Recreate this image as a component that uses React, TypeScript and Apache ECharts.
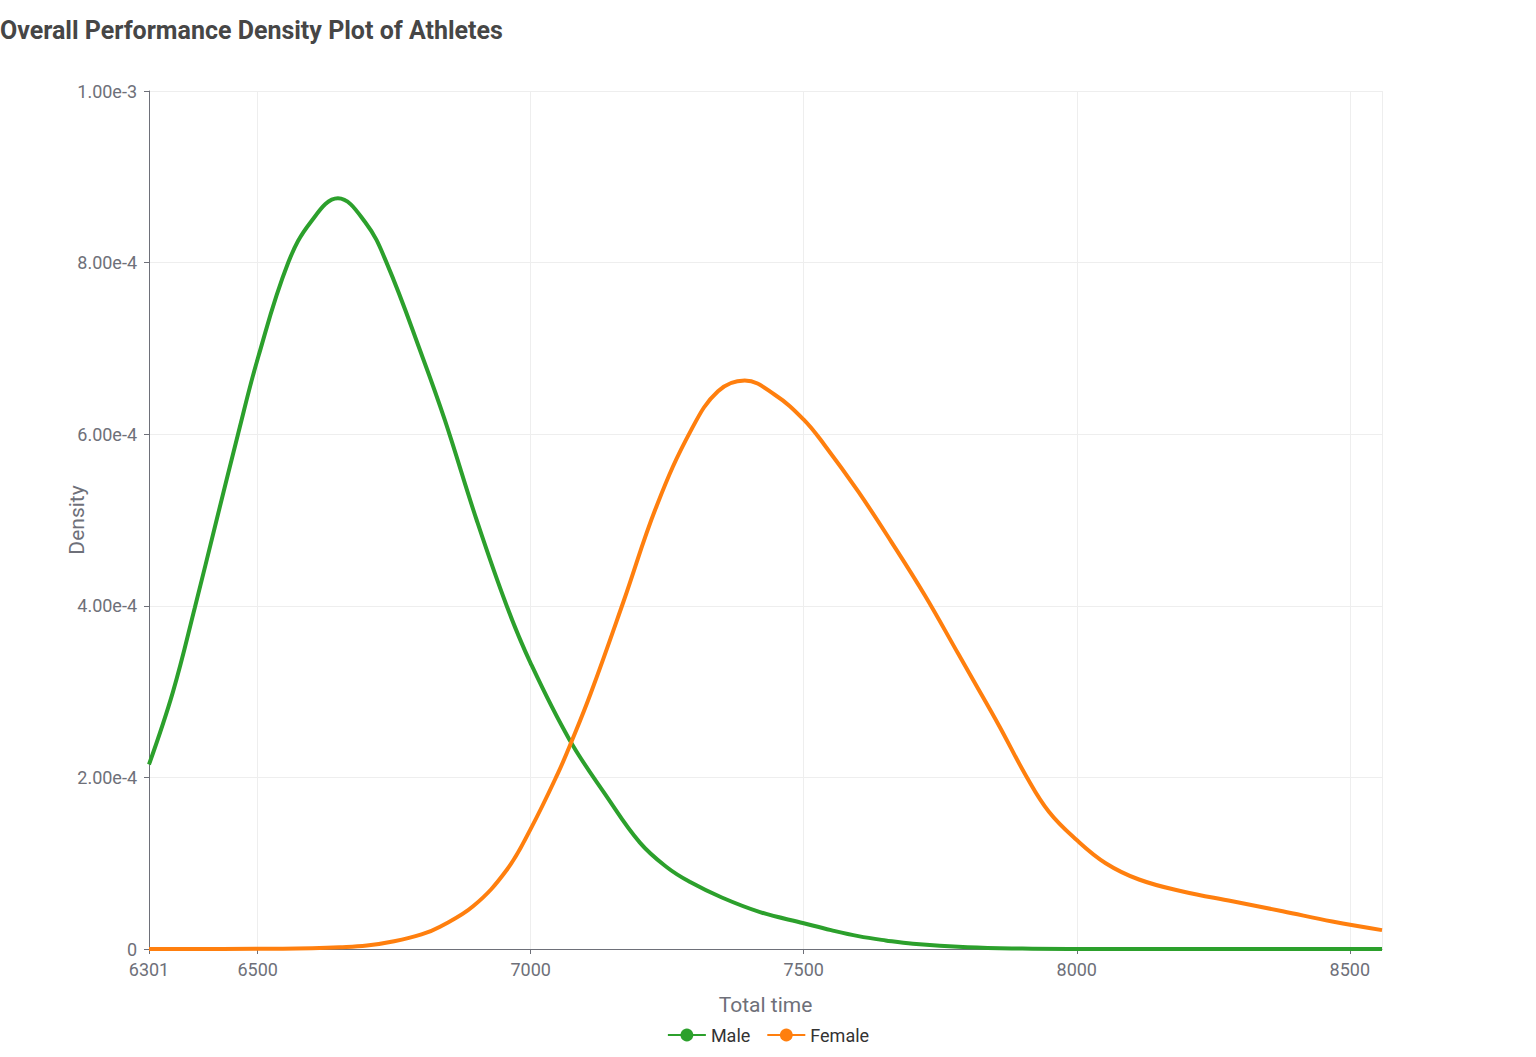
import React, { useEffect, useRef } from "react";
import * as echarts from "echarts";

const TITLE = "Overall Performance Density Plot of Athletes";
const SERIES_NAMES = ["Male", "Female"];

const maleX = [6301, 6345, 6385, 6424, 6464, 6501, 6556, 6598, 6647, 6697, 6736, 6803, 6843, 6901, 6956, 7000, 7071, 7139, 7200, 7250, 7292, 7350, 7420, 7500, 7550, 7600, 7650, 7700, 7800, 7900, 8000, 8200, 8559];
const maleY = [2.15e-4, 3.0e-4, 3.98e-4, 4.98e-4, 6.0e-4, 6.9e-4, 8.0e-4, 8.48e-4, 8.75e-4, 8.47e-4, 8.0e-4, 6.88e-4, 6.16e-4, 5.0e-4, 4.0e-4, 3.33e-4, 2.44e-4, 1.78e-4, 1.24e-4, 0.95e-4, 0.78e-4, 0.6e-4, 0.43e-4, 0.3e-4, 0.22e-4, 0.15e-4, 0.1e-4, 0.06e-4, 0.02e-4, 0.005e-4, 0.001e-4, 0, 0];

const femaleX = [6301, 6500, 6600, 6650, 6700, 6750, 6800, 6834, 6895, 6956, 7000, 7050, 7075, 7110, 7170, 7231, 7294, 7343, 7392, 7447, 7500, 7538, 7600, 7661, 7722, 7783, 7809, 7858, 7907, 7949, 8000, 8053, 8114, 8194, 8285, 8377, 8468, 8559];
const femaleY = [0, 0.002e-4, 0.01e-4, 0.02e-4, 0.04e-4, 0.09e-4, 0.17e-4, 0.26e-4, 0.5e-4, 0.92e-4, 1.4e-4, 2.05e-4, 2.42e-4, 2.98e-4, 4.05e-4, 5.17e-4, 6.05e-4, 6.5e-4, 6.625e-4, 6.46e-4, 6.17e-4, 5.875e-4, 5.33e-4, 4.74e-4, 4.12e-4, 3.44e-4, 3.15e-4, 2.6e-4, 2.02e-4, 1.6e-4, 1.27e-4, 1.0e-4, 0.81e-4, 0.67e-4, 0.556e-4, 0.44e-4, 0.32e-4, 0.22e-4];

const X_MIN = 6301;
const X_MAX = 8559;
const Y_MIN = 0;
const Y_MAX = 1e-3;
const Y_INTERVAL = 2e-4;

const COLORS = ["#2ca02c", "#ff7f0e"];
const FONT = "Roboto";

export default function App() {
  const ref = useRef<HTMLDivElement>(null);
  useEffect(() => {
    if (!ref.current) return;
    const chart = echarts.init(ref.current, null, { renderer: "svg" });
    const male = maleX.map((x, i) => [x, maleY[i]]);
    const female = femaleX.map((x, i) => [x, femaleY[i]]);
    chart.setOption({
      animation: false,
      color: COLORS,
      textStyle: { fontFamily: FONT },
      title: {
        text: TITLE,
        left: 0,
        top: 18,
        padding: 0,
        textStyle: { fontFamily: FONT, fontSize: 25, fontWeight: "bold", color: "#464646" },
      },
      legend: {
        bottom: 8,
        left: "center",
        itemWidth: 38,
        itemHeight: 16,
        itemGap: 16,
        textStyle: { fontFamily: FONT, fontSize: 18, color: "#333" },
        data: SERIES_NAMES,
      },
      grid: { left: 149, right: 154, top: 91, bottom: 108, containLabel: false },
      xAxis: {
        type: "value",
        min: X_MIN,
        max: X_MAX,
        splitNumber: 5,
        name: "Total time",
        nameLocation: "middle",
        nameGap: 45,
        nameMoveOverlap: false,
        nameTextStyle: { fontFamily: FONT, fontSize: 21, color: "#6e7079" },
        axisLine: { show: true, lineStyle: { color: "#6e7079" } },
        axisTick: { show: true, length: 5, lineStyle: { color: "#6e7079" } },
        axisLabel: {
          fontSize: 18,
          color: "#6e7079",
          margin: 11,
          showMaxLabel: false,
          showMinLabel: true,
          formatter: (v: number) => String(v),
        },
        splitLine: { show: true, lineStyle: { color: "#eeeeee" } },
      },
      yAxis: {
        type: "value",
        min: Y_MIN,
        max: Y_MAX,
        interval: Y_INTERVAL,
        name: "Density",
        nameLocation: "middle",
        nameGap: 62,
        nameMoveOverlap: false,
        nameTextStyle: { fontFamily: FONT, fontSize: 21, color: "#6e7079" },
        axisLine: { show: true, lineStyle: { color: "#6e7079" } },
        axisTick: { show: true, length: 5, lineStyle: { color: "#6e7079" } },
        axisLabel: {
          fontSize: 18,
          color: "#6e7079",
          margin: 12,
          formatter: (v: number) => (v === 0 ? "0" : v.toExponential(2)),
        },
        splitLine: { show: true, lineStyle: { color: "#eeeeee" } },
      },
      series: [
        {
          name: SERIES_NAMES[0],
          type: "line",
          data: male,
          smooth: 0.4,
          symbol: "circle",
          symbolSize: 16,
          showSymbol: false,
          lineStyle: { width: 4, color: COLORS[0] },
          itemStyle: { color: COLORS[0] },
        },
        {
          name: SERIES_NAMES[1],
          type: "line",
          data: female,
          smooth: 0.4,
          symbol: "circle",
          symbolSize: 16,
          showSymbol: false,
          lineStyle: { width: 4, color: COLORS[1] },
          itemStyle: { color: COLORS[1] },
        },
      ],
    });
    return () => chart.dispose();
  }, []);
  return (
    <div
      ref={ref}
      style={{ position: "absolute", left: 0, top: 0, width: 1536, height: 1057 }}
    />
  );
}
